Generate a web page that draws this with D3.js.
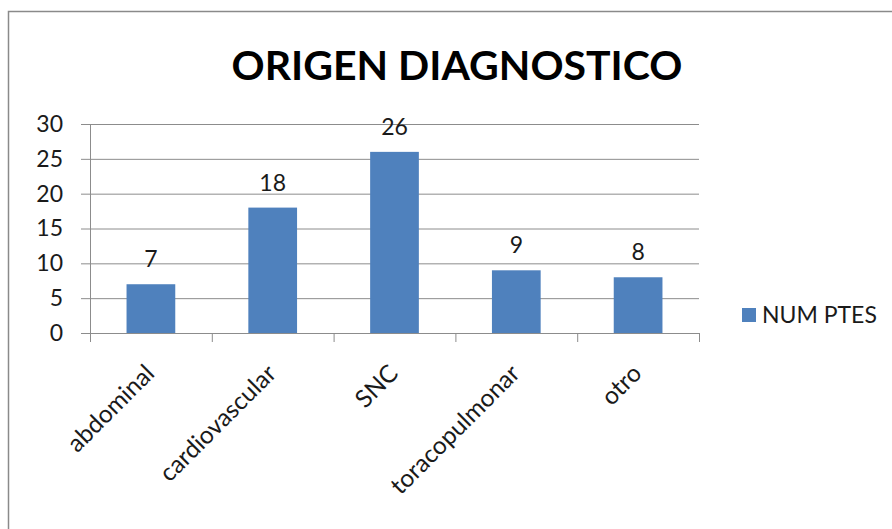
<!DOCTYPE html>
<html>
<head>
<meta charset="utf-8">
<script src="https://cdn.jsdelivr.net/npm/d3@7"></script>
<style>
  html, body { margin: 0; padding: 0; background: #fff; }
  svg { display: block; font-family: Lato, "Open Sans", sans-serif; }
</style>
</head>
<body>
<svg id="chart" width="892" height="529"></svg>
<script>
// Diagnostic origin counts
const categories = ["abdominal", "cardiovascular", "SNC", "toracopulmonar", "otro"];
const values = [7, 18, 26, 9, 8];
const seriesName = "NUM PTES";
const yTicks = [0, 5, 10, 15, 20, 25, 30];
const title = "ORIGEN DIAGNOSTICO";

const svg = d3.select("#chart");
const barColor = "#4F81BD";
const gridColor = "#8c8c8c";
const textColor = "#1a1a1a";
const fontSize = 23;

// Chart frame
svg.append("rect")
  .attr("x", 8.5).attr("y", 11.5)
  .attr("width", 900).attr("height", 540)
  .attr("fill", "#fff")
  .attr("stroke", "#8a8a8a").attr("stroke-width", 1.5);

const plot = { left: 90, right: 699, top: 124, bottom: 333 };

const x = d3.scaleBand()
  .domain(categories)
  .range([plot.left, plot.right])
  .paddingInner(0.6)
  .paddingOuter(0.3);

const y = d3.scaleLinear()
  .domain([0, 30])
  .range([plot.bottom, plot.top]);

// Title
svg.append("text")
  .attr("x", 457).attr("y", 80)
  .attr("text-anchor", "middle")
  .attr("font-weight", "bold")
  .attr("font-size", 41)
  .attr("fill", "#000")
  .text(title);

// Horizontal gridlines with tick labels
const yAxis = d3.axisLeft(y)
  .tickValues(yTicks)
  .tickSize(-(plot.right - plot.left))
  .tickSizeOuter(0)
  .tickPadding(27);

const gy = svg.append("g")
  .attr("transform", `translate(${plot.left},0)`)
  .call(yAxis);
gy.select(".domain").attr("stroke", gridColor);
gy.selectAll(".tick line").attr("stroke", gridColor).attr("x1", -9);
gy.selectAll(".tick text")
  .attr("font-size", fontSize)
  .attr("fill", textColor)
  .attr("font-family", "Lato, 'Open Sans', sans-serif");

// Bars
svg.append("g").selectAll("rect")
  .data(values)
  .join("rect")
  .attr("x", (d, i) => x(categories[i]))
  .attr("y", d => y(d))
  .attr("width", x.bandwidth())
  .attr("height", d => y(0) - y(d))
  .attr("fill", barColor);

// Value labels
svg.append("g").selectAll("text")
  .data(values)
  .join("text")
  .attr("x", (d, i) => x(categories[i]) + x.bandwidth() / 2)
  .attr("y", d => y(d) - 17)
  .attr("text-anchor", "middle")
  .attr("font-size", fontSize)
  .attr("fill", textColor)
  .text(d => d);

// Category axis: tick marks at band boundaries
const boundaries = d3.range(categories.length + 1).map(i => plot.left + i * (plot.right - plot.left) / categories.length);
const gx = svg.append("g");
gx.append("line")
  .attr("x1", plot.left).attr("x2", plot.right)
  .attr("y1", plot.bottom + 0.5).attr("y2", plot.bottom + 0.5)
  .attr("stroke", gridColor);
gx.selectAll("line.tick")
  .data(boundaries)
  .join("line")
  .attr("class", "tick")
  .attr("x1", d => d + 0.5).attr("x2", d => d + 0.5)
  .attr("y1", plot.bottom).attr("y2", plot.bottom + 9)
  .attr("stroke", gridColor);

// Rotated category labels
gx.selectAll("text")
  .data(categories)
  .join("text")
  .attr("transform", d => `translate(${x(d) + x.bandwidth() / 2 + 5},${plot.bottom + 42}) rotate(-45)`)
  .attr("text-anchor", "end")
  .attr("font-size", 24.5)
  .attr("fill", textColor)
  .text(d => d);

// Legend
const legend = svg.append("g");
legend.append("rect")
  .attr("x", 742).attr("y", 308)
  .attr("width", 14).attr("height", 14)
  .attr("fill", barColor);
legend.append("text")
  .attr("x", 762).attr("y", 323)
  .attr("font-size", fontSize)
  .attr("fill", textColor)
  .text(seriesName);
</script>
</body>
</html>
